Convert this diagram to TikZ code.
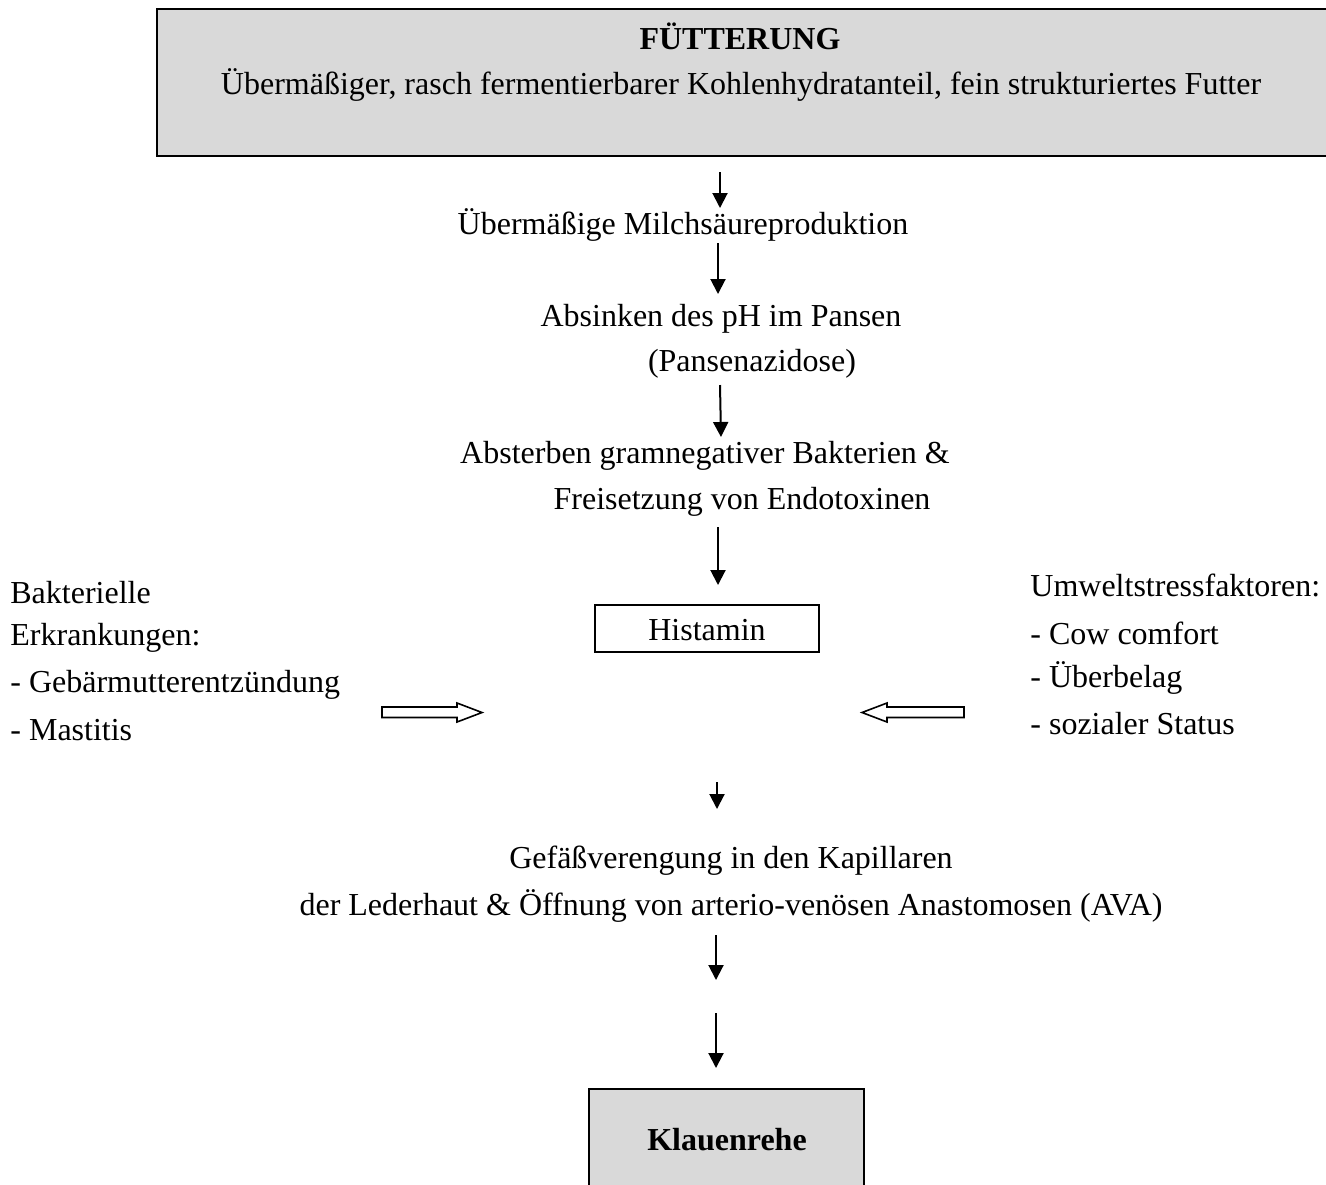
\documentclass[tikz,border=0pt]{standalone}
\usepackage{fontspec}
\setmainfont{Liberation Serif}
\usetikzlibrary{arrows.meta}
\definecolor{boxgray}{HTML}{D9D9D9}
\tikzset{
  txt/.style={inner sep=0pt, font=\fontsize{16}{19}\selectfont},
  ltxt/.style={txt, anchor=west},
  flow/.style={line width=1pt, -{Triangle[width=7.5pt,length=7.5pt]}},
  hollow/.style={draw, line width=0.8pt, fill=white, line join=miter},
  graybox/.style={draw, line width=1.4pt, fill=boxgray},
  plainbox/.style={draw, line width=1pt}
}
\begin{document}
\begin{tikzpicture}[x=0.5pt,y=-0.5pt]
\useasboundingbox (0,0) rectangle (1326,1184);
\clip (0,0) rectangle (1326,1184);
% top box
\draw[graybox] (157,9) rectangle (1340,156);
\node[txt, font=\fontsize{16}{19}\selectfont\bfseries] (fut) at (740,36) {FÜTTERUNG};
\node[txt] (fut2) at (741,85) {Übermäßiger, rasch fermentierbarer Kohlenhydratanteil, fein strukturiertes Futter};
% chain texts
\node[txt] (milch) at (683,225) {Übermäßige Milchsäureproduktion};
\node[txt] (ph1) at (721,319) {Absinken des pH im Pansen};
\node[txt] (ph2) at (752,364) {(Pansenazidose)};
\node[txt] (abs1) at (705,456) {Absterben gramnegativer Bakterien \&};
\node[txt] (abs2) at (742,502) {Freisetzung von Endotoxinen};
\node[plainbox, minimum width=112pt, minimum height=23.5pt, inner sep=0pt] (hist) at (707,628.5) {};
\node[txt] (histtxt) at (707,630) {Histamin};
\node[txt] (gef1) at (731,861) {Gefäßverengung in den Kapillaren};
\node[txt] (gef2) at (731,906) {der Lederhaut \& Öffnung von arterio-venösen Anastomosen (AVA)};
% bottom box
\draw[graybox] (589,1089) rectangle (864,1200);
\node[txt, font=\fontsize{16}{19}\selectfont\bfseries] (klaue) at (727,1140) {Klauenrehe};
% left texts
\node[ltxt] (b1) at (10,593) {Bakterielle};
\node[ltxt] (b2) at (10,638) {Erkrankungen:};
\node[ltxt] (b3) at (10,685) {- Gebärmutterentzündung};
\node[ltxt] (b4) at (10,730) {- Mastitis};
% right texts
\node[ltxt] (u1) at (1030,585) {Umweltstressfaktoren:};
\node[ltxt] (u2) at (1030,633) {- Cow comfort};
\node[ltxt] (u3) at (1030,678) {- Überbelag};
\node[ltxt] (u4) at (1030,724) {- sozialer Status};
% arrow coordinates
\coordinate (a1s) at (720,172); \coordinate (a1e) at (720,208);
\coordinate (a2s) at (718,243); \coordinate (a2e) at (718,294);
\coordinate (a3s) at (720,385); \coordinate (a3e) at (721,437);
\coordinate (a4s) at (718,527); \coordinate (a4e) at (718,585);
\coordinate (a5s) at (717,782); \coordinate (a5e) at (717,809);
\coordinate (a6s) at (716,935); \coordinate (a6e) at (716,980);
\coordinate (a7s) at (716,1013); \coordinate (a7e) at (716,1068);
\draw[flow] (a1s) -- (a1e);
\draw[flow] (a2s) -- (a2e);
\draw[flow] (a3s) -- (a3e);
\draw[flow] (a4s) -- (a4e);
\draw[flow] (a5s) -- (a5e);
\draw[flow] (a6s) -- (a6e);
\draw[flow] (a7s) -- (a7e);
% hollow arrows
\draw[hollow] (382,707) -- (457,707) -- (457,703) -- (482,712.5) -- (457,722) -- (457,717.5) -- (382,717.5) -- cycle;
\draw[hollow] (964,707) -- (887,707) -- (887,703) -- (862,712.5) -- (887,722) -- (887,717.5) -- (964,717.5) -- cycle;
\end{tikzpicture}
\end{document}
